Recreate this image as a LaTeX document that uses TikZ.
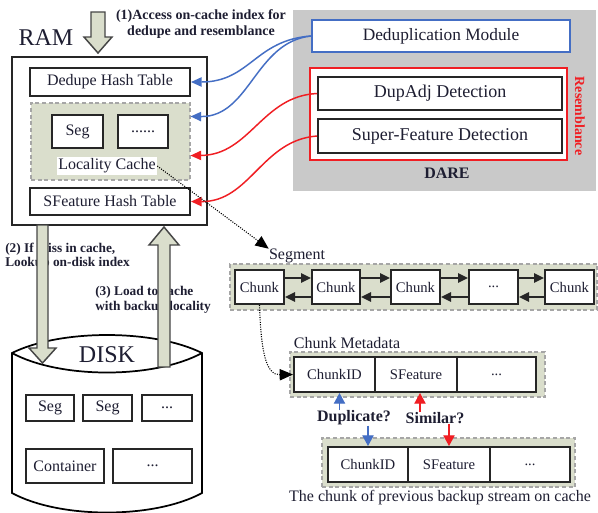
\documentclass[tikz,border=0pt]{standalone}
\usepackage{fontspec}
\setmainfont{Liberation Serif}
\usetikzlibrary{arrows.meta,calc}
\definecolor{textc}{RGB}{30,30,50}
\definecolor{linkblue}{RGB}{68,110,196}
\definecolor{linkred}{RGB}{240,30,35}
\definecolor{panelgray}{RGB}{201,201,201}
\definecolor{sage}{RGB}{218,222,204}
\definecolor{arrowedge}{RGB}{70,70,70}
\newcommand{\mkbox}[7]{\node[#6, minimum width={(#4-#2)*0.75pt}, minimum height={(#5-#3)*0.75pt}] (#1) at ({(#2+#4)/2},{(#3+#5)/2}) {#7};}
\tikzset{
  box/.style={draw=black!85, line width=1.5pt, fill=white, inner sep=0pt, text=textc, font=\fontsize{12}{14}\selectfont},
  groupbox/.style={draw=gray!70, densely dashed, line width=0.8pt, fill=sage, inner sep=0pt},
  lbl/.style={text=textc, inner sep=0pt},
  bluelink/.style={draw=linkblue, line width=1.1pt, -{Triangle[length=8pt,width=7pt]}},
  redlink/.style={draw=linkred, line width=1.1pt, -{Triangle[length=8pt,width=7pt]}},
  dotarrow/.style={draw=black, line width=0.8pt, densely dotted, -{Triangle[length=10pt,width=8.5pt]}},
  chainarr/.style={draw=black!85, line width=1.4pt, -{Triangle[length=7.5pt,width=7pt]}},
  smallarr/.style={line width=0.8pt, -{Triangle[length=8pt,width=8.5pt]}},
  blockarrow/.style={draw=arrowedge, line width=1.1pt, fill=sage, line join=miter},
}
\begin{document}
\begin{tikzpicture}[x=0.75pt,y=-0.75pt]
\useasboundingbox (0,0) rectangle (598,512);
\fill[white] (0,0) rectangle (598,512);

% ---------------- RAM side ----------------
\node[lbl, font=\fontsize{18}{20}\selectfont] (ramlabel) at (46,38) {RAM};
\mkbox{ram}{12}{57}{207}{225}{box, line width=1.9pt}{}
\mkbox{dht}{30}{68}{190}{96}{box}{Dedupe Hash Table}
\mkbox{cache}{31}{103}{190}{180}{groupbox}{}
\mkbox{cseg}{52}{115}{103}{148}{box}{Seg}
\mkbox{cdots}{118}{115}{168}{148}{box}{......}
\node[lbl, fill=white, inner sep=1pt, font=\fontsize{12}{14}\selectfont] (lclabel) at (107,166) {Locality Cache};
\mkbox{sht}{30}{188}{190}{215}{box}{SFeature Hash Table}

\node[lbl, align=center, font=\fontsize{10.5}{12}\selectfont\bfseries] (lab1) at (201,24) {(1)Access on-cache index for\\dedupe and resemblance};

% ---------------- DARE panel ----------------
\mkbox{dare}{293}{10}{596}{191}{fill=panelgray, draw=none}{}
\mkbox{ddm}{312}{20}{570}{52}{box, draw=linkblue, font=\fontsize{13}{15}\selectfont}{Deduplication Module}
\mkbox{resbox}{310}{68}{567}{160}{draw=linkred, fill=white, line width=1.5pt}{}
\mkbox{dupadj}{318}{77}{562}{110}{box, font=\fontsize{13.5}{15}\selectfont}{DupAdj Detection}
\mkbox{sfd}{318}{119}{562}{153}{box, font=\fontsize{13.5}{15}\selectfont}{Super-Feature Detection}
\node[inner sep=0pt, text=linkred, rotate=-90, font=\fontsize{10.5}{12}\selectfont\bfseries] (reslabel) at (580,116) {Resemblance};
\node[lbl, font=\fontsize{12}{14}\selectfont\bfseries] (darelabel) at (447,173) {DARE};

% blue / red connectors
\coordinate (cachein) at ($(cache.north east)+(0,14)$);
\coordinate (cachein2) at ($(cache.south east)+(0,-25)$);
\draw[bluelink] (ddm.west) .. controls (255,40) and (250,82) .. (dht.east);
\draw[bluelink] (ddm.west) .. controls (255,42) and (250,117) .. (cachein);
\draw[redlink] (dupadj.west) .. controls (262,96) and (250,155) .. (cachein2);
\draw[redlink] (sfd.west) .. controls (262,140) and (250,202) .. (sht.east);

% ---------------- Segment ----------------
\node[lbl, font=\fontsize{12}{14}\selectfont] (seglabel) at (297,256) {Segment};
\mkbox{segbox}{230}{264}{597}{310}{groupbox}{}
\mkbox{c1}{235}{270}{284}{304}{box, font=\fontsize{11}{13}\selectfont}{Chunk}
\mkbox{c2}{312}{270}{360}{304}{box, font=\fontsize{11}{13}\selectfont}{Chunk}
\mkbox{c3}{391}{270}{440}{304}{box, font=\fontsize{11}{13}\selectfont}{Chunk}
\mkbox{c4}{469}{270}{518}{304}{box, font=\fontsize{11}{13}\selectfont}{...}
\mkbox{c5}{545}{270}{594}{304}{box, font=\fontsize{11}{13}\selectfont}{Chunk}
\foreach \a/\b in {c1/c2,c2/c3,c3/c4,c4/c5}{
  \draw[chainarr] ($(\a.east)+(0,-9)$) -- ($(\b.west)+(0,-9)$);
  \draw[chainarr] ($(\b.west)+(0,10)$) -- ($(\a.east)+(0,10)$);
}
\draw[dotarrow] (lclabel.east) -- (seglabel.north west);

% ---------------- Chunk metadata ----------------
\node[lbl, font=\fontsize{12}{14}\selectfont] (mdlabel) at (347,343) {Chunk Metadata};
\mkbox{mdbox}{290}{352}{545}{397}{groupbox}{}
\mkbox{md1}{294}{357}{375}{392}{box, font=\fontsize{11}{13}\selectfont}{ChunkID}
\mkbox{md2}{375}{357}{457}{392}{box, font=\fontsize{11}{13}\selectfont}{SFeature}
\mkbox{md3}{457}{357}{536}{392}{box, font=\fontsize{11}{13}\selectfont}{...}
\draw[dotarrow] (c1.south) .. controls (261,352) and (266,375) .. (md1.west);

\node[lbl, font=\fontsize{12}{14}\selectfont\bfseries] (dup) at (354,418) {Duplicate?};
\node[lbl, font=\fontsize{12}{14}\selectfont\bfseries] (sim) at (435,418) {Similar?};

\mkbox{pcbox}{322}{438}{575}{487}{groupbox}{}
\mkbox{pc1}{328}{447}{408}{482}{box, font=\fontsize{11}{13}\selectfont}{ChunkID}
\mkbox{pc2}{408}{447}{490}{482}{box, font=\fontsize{11}{13}\selectfont}{SFeature}
\mkbox{pc3}{490}{447}{570}{482}{box, font=\fontsize{11}{13}\selectfont}{...}
\node[lbl, font=\fontsize{12}{14}\selectfont] (caption) at (440,498) {The chunk of previous backup stream on cache};

\draw[smallarr, draw=linkblue] ($(md1.south |- dup.north)+(5,0)$) -- ($(md1.south)+(5,0)$);
\draw[smallarr, draw=linkblue] (pc1.north |- dup.south) -- (pc1.north);
\draw[smallarr, draw=linkred] ($(md2.south |- sim.north)+(4,0)$) -- ($(md2.south)+(4,0)$);
\draw[smallarr, draw=linkred] (pc2.north |- sim.south) -- (pc2.north);

% ---------------- DISK ----------------
\draw[line width=1.3pt, fill=white] (12,353) -- (12,493) .. controls (60,519) and (154,519) .. (202,493) -- (202,353)
  .. controls (154,329) and (60,329) .. cycle;
\draw[line width=1.3pt] (12,353) .. controls (60,379) and (154,379) .. (202,353);
\node[lbl, font=\fontsize{18}{20}\selectfont] (disklabel) at (107,355) {DISK};
\mkbox{ds1}{26}{395}{74}{421}{box}{Seg}
\mkbox{ds2}{83}{395}{132}{421}{box}{Seg}
\mkbox{ds3}{142}{395}{192}{421}{box}{...}
\mkbox{dc}{26}{449}{104}{483}{box}{Container}
\mkbox{dd}{113}{449}{192}{483}{box}{...}

\node[lbl, align=left, anchor=north west, font=\fontsize{10}{10.5}\selectfont\bfseries] (lab2) at (5,243) {(2) If miss in cache,\\Lookup on-disk index};
\node[lbl, align=left, anchor=north west, font=\fontsize{10}{11}\selectfont\bfseries] (lab3) at (95,286) {(3) Load to cache\\with backup locality};

% ---------------- block arrows ----------------
\draw[blockarrow] (91,12) -- (105,12) -- (105,37) -- (112,37) -- (98,53) -- (84,37) -- (91,37) -- cycle;
\draw[blockarrow] (37,225) -- (48,225) -- (48,348) -- (56,348) -- (42.5,363) -- (29,348) -- (37,348) -- cycle;
\draw[blockarrow] (158,367) -- (170,367) -- (170,245) -- (179,245) -- (164,227) -- (149,245) -- (158,245) -- cycle;
\end{tikzpicture}
\end{document}
